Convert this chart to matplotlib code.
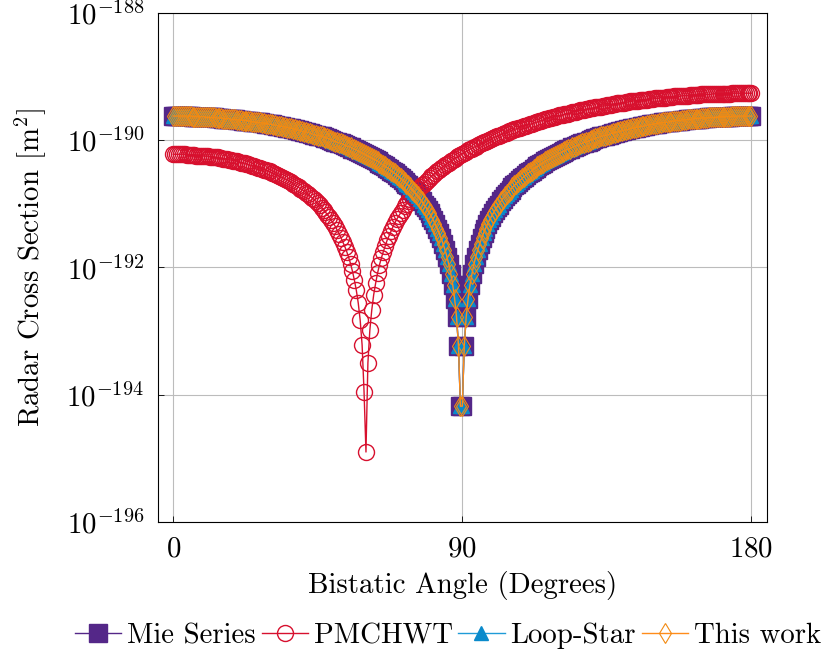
import numpy as np
import matplotlib
matplotlib.use("Agg")
import matplotlib.pyplot as plt
from matplotlib.ticker import LogFormatterSciNotation, NullLocator

plt.rcParams['font.family'] = 'cmr10'
plt.rcParams['mathtext.fontset'] = 'cm'
plt.rcParams['axes.unicode_minus'] = False
plt.rcParams['axes.formatter.use_mathtext'] = True

# bistatic angle grid, 0.6 deg steps
angles = np.linspace(0, 180, 301)

# log10 of RCS (m^2)
mie_series = [
    -189.62, -189.62, -189.62, -189.62, -189.62, -189.62, -189.62, -189.62, -189.62, -189.62,
    -189.63, -189.63, -189.63, -189.63, -189.63, -189.63, -189.63, -189.64, -189.64, -189.64,
    -189.64, -189.64, -189.65, -189.65, -189.65, -189.65, -189.66, -189.66, -189.66, -189.66,
    -189.67, -189.67, -189.67, -189.68, -189.68, -189.68, -189.69, -189.69, -189.69, -189.70,
    -189.70, -189.71, -189.71, -189.72, -189.72, -189.72, -189.73, -189.73, -189.74, -189.74,
    -189.75, -189.75, -189.76, -189.76, -189.77, -189.78, -189.78, -189.79, -189.79, -189.80,
    -189.81, -189.81, -189.82, -189.83, -189.84, -189.84, -189.85, -189.86, -189.87, -189.87,
    -189.88, -189.89, -189.90, -189.91, -189.92, -189.93, -189.93, -189.94, -189.95, -189.96,
    -189.97, -189.98, -189.99, -190.01, -190.02, -190.03, -190.04, -190.05, -190.06, -190.08,
    -190.09, -190.10, -190.11, -190.13, -190.14, -190.15, -190.17, -190.18, -190.20, -190.21,
    -190.23, -190.25, -190.26, -190.28, -190.30, -190.31, -190.33, -190.35, -190.37, -190.39,
    -190.41, -190.43, -190.45, -190.48, -190.50, -190.52, -190.55, -190.57, -190.60, -190.63,
    -190.65, -190.68, -190.71, -190.74, -190.78, -190.81, -190.85, -190.88, -190.92, -190.96,
    -191.01, -191.05, -191.10, -191.15, -191.20, -191.26, -191.32, -191.39, -191.46, -191.54,
    -191.63, -191.72, -191.83, -191.95, -192.10, -192.27, -192.49, -192.78, -193.23, -194.18,
    -194.18, -193.23, -192.78, -192.49, -192.27, -192.10, -191.95, -191.83, -191.72, -191.63,
    -191.54, -191.46, -191.39, -191.32, -191.26, -191.20, -191.15, -191.10, -191.05, -191.01,
    -190.96, -190.92, -190.88, -190.85, -190.81, -190.78, -190.74, -190.71, -190.68, -190.65,
    -190.63, -190.60, -190.57, -190.55, -190.52, -190.50, -190.48, -190.45, -190.43, -190.41,
    -190.39, -190.37, -190.35, -190.33, -190.31, -190.30, -190.28, -190.26, -190.25, -190.23,
    -190.21, -190.20, -190.18, -190.17, -190.15, -190.14, -190.13, -190.11, -190.10, -190.09,
    -190.08, -190.06, -190.05, -190.04, -190.03, -190.02, -190.01, -189.99, -189.98, -189.97,
    -189.96, -189.95, -189.94, -189.93, -189.93, -189.92, -189.91, -189.90, -189.89, -189.88,
    -189.87, -189.87, -189.86, -189.85, -189.84, -189.84, -189.83, -189.82, -189.81, -189.81,
    -189.80, -189.79, -189.79, -189.78, -189.78, -189.77, -189.76, -189.76, -189.75, -189.75,
    -189.74, -189.74, -189.73, -189.73, -189.72, -189.72, -189.72, -189.71, -189.71, -189.70,
    -189.70, -189.69, -189.69, -189.69, -189.68, -189.68, -189.68, -189.67, -189.67, -189.67,
    -189.66, -189.66, -189.66, -189.66, -189.65, -189.65, -189.65, -189.65, -189.64, -189.64,
    -189.64, -189.64, -189.64, -189.63, -189.63, -189.63, -189.63, -189.63, -189.63, -189.63,
    -189.62, -189.62, -189.62, -189.62, -189.62, -189.62, -189.62, -189.62, -189.62, -189.62,
    -189.62,
]

pmchwt = [
    -190.22, -190.22, -190.22, -190.22, -190.22, -190.22, -190.22, -190.23, -190.23, -190.23,
    -190.23, -190.23, -190.24, -190.24, -190.24, -190.24, -190.25, -190.25, -190.25, -190.26,
    -190.26, -190.26, -190.27, -190.27, -190.28, -190.28, -190.29, -190.29, -190.30, -190.31,
    -190.31, -190.32, -190.32, -190.33, -190.34, -190.35, -190.35, -190.36, -190.37, -190.38,
    -190.39, -190.40, -190.41, -190.42, -190.43, -190.44, -190.45, -190.46, -190.47, -190.48,
    -190.49, -190.51, -190.52, -190.53, -190.55, -190.56, -190.58, -190.59, -190.61, -190.62,
    -190.64, -190.66, -190.68, -190.70, -190.72, -190.74, -190.76, -190.78, -190.80, -190.83,
    -190.85, -190.88, -190.90, -190.93, -190.96, -190.99, -191.02, -191.06, -191.09, -191.13,
    -191.17, -191.21, -191.26, -191.30, -191.35, -191.41, -191.47, -191.53, -191.60, -191.67,
    -191.75, -191.84, -191.94, -192.06, -192.20, -192.36, -192.56, -192.83, -193.22, -193.95,
    -194.90, -193.50, -192.99, -192.67, -192.43, -192.25, -192.09, -191.96, -191.85, -191.75,
    -191.66, -191.57, -191.50, -191.43, -191.36, -191.30, -191.24, -191.19, -191.14, -191.09,
    -191.04, -191.00, -190.96, -190.92, -190.88, -190.84, -190.81, -190.77, -190.74, -190.71,
    -190.68, -190.65, -190.62, -190.59, -190.56, -190.54, -190.51, -190.49, -190.46, -190.44,
    -190.42, -190.39, -190.37, -190.35, -190.33, -190.31, -190.29, -190.27, -190.25, -190.23,
    -190.21, -190.20, -190.18, -190.16, -190.14, -190.13, -190.11, -190.10, -190.08, -190.06,
    -190.05, -190.03, -190.02, -190.01, -189.99, -189.98, -189.96, -189.95, -189.94, -189.93,
    -189.91, -189.90, -189.89, -189.88, -189.86, -189.85, -189.84, -189.83, -189.82, -189.81,
    -189.80, -189.79, -189.78, -189.77, -189.76, -189.75, -189.74, -189.73, -189.72, -189.71,
    -189.70, -189.69, -189.68, -189.67, -189.66, -189.65, -189.65, -189.64, -189.63, -189.62,
    -189.61, -189.61, -189.60, -189.59, -189.58, -189.58, -189.57, -189.56, -189.55, -189.55,
    -189.54, -189.53, -189.53, -189.52, -189.51, -189.51, -189.50, -189.50, -189.49, -189.48,
    -189.48, -189.47, -189.47, -189.46, -189.46, -189.45, -189.45, -189.44, -189.43, -189.43,
    -189.42, -189.42, -189.42, -189.41, -189.41, -189.40, -189.40, -189.39, -189.39, -189.38,
    -189.38, -189.38, -189.37, -189.37, -189.36, -189.36, -189.36, -189.35, -189.35, -189.35,
    -189.34, -189.34, -189.34, -189.33, -189.33, -189.33, -189.32, -189.32, -189.32, -189.32,
    -189.31, -189.31, -189.31, -189.31, -189.30, -189.30, -189.30, -189.30, -189.29, -189.29,
    -189.29, -189.29, -189.29, -189.29, -189.28, -189.28, -189.28, -189.28, -189.28, -189.28,
    -189.27, -189.27, -189.27, -189.27, -189.27, -189.27, -189.27, -189.27, -189.27, -189.27,
    -189.26, -189.26, -189.26, -189.26, -189.26, -189.26, -189.26, -189.26, -189.26, -189.26,
    -189.26,
]

# the two MoM solvers sit right on top of the Mie curve
loop_star = list(mie_series)
this_work = list(mie_series)

fig = plt.figure(figsize=(8.25, 6.57), dpi=100)
ax = fig.add_axes([0.1915, 0.2055, 0.7378, 0.7747])

ax.plot(angles, 10.0 ** np.array(mie_series), color='#542788', lw=1.0,
        marker='s', ms=13, mfc='#542788', mec='#542788', label='Mie Series')
ax.plot(angles, 10.0 ** np.array(pmchwt), color='#d7102e', lw=1.0,
        marker='o', ms=11.5, mfc='none', mec='#d7102e', mew=1.0, label='PMCHWT')
ax.plot(angles, 10.0 ** np.array(loop_star), color='#1f9bd7', lw=1.0,
        marker='^', ms=9.5, mfc='#0a8acb', mec='#0a8acb', label='Loop-Star')
ax.plot(angles, 10.0 ** np.array(this_work), color='#ff8c1a', lw=1.0,
        marker='d', ms=9.7, mfc='none', mec='#f28a12', mew=0.8, label='This work')

ax.set_yscale('log')
ax.set_xlim(-4.75, 184.75)
ax.set_ylim(1e-196, 1e-188)
ax.set_xticks([0, 90, 180])
ax.set_yticks([1e-196, 1e-194, 1e-192, 1e-190, 1e-188])
ax.yaxis.set_major_formatter(LogFormatterSciNotation())
ax.yaxis.set_minor_locator(NullLocator())
ax.tick_params(axis='both', which='major', direction='in', length=4,
               width=0.6, labelsize=20.8, pad=10)
ax.grid(True, color='#bcbcbc', lw=0.8)
ax.set_axisbelow(True)
for s in ax.spines.values():
    s.set_linewidth(0.8)

ax.set_xlabel('Bistatic Angle (Degrees)', fontsize=20.8, labelpad=6)
ax.set_ylabel(r'Radar Cross Section $[\mathrm{m}^2]$', fontsize=20.8, labelpad=13)

fig.legend(loc='center', bbox_to_anchor=(0.543, 0.032), ncol=4, frameon=False,
           fontsize=20.8, handlelength=1.6, handletextpad=0.2, columnspacing=0.2,
           borderpad=0.1)

fig.savefig('out.png', dpi=100)
